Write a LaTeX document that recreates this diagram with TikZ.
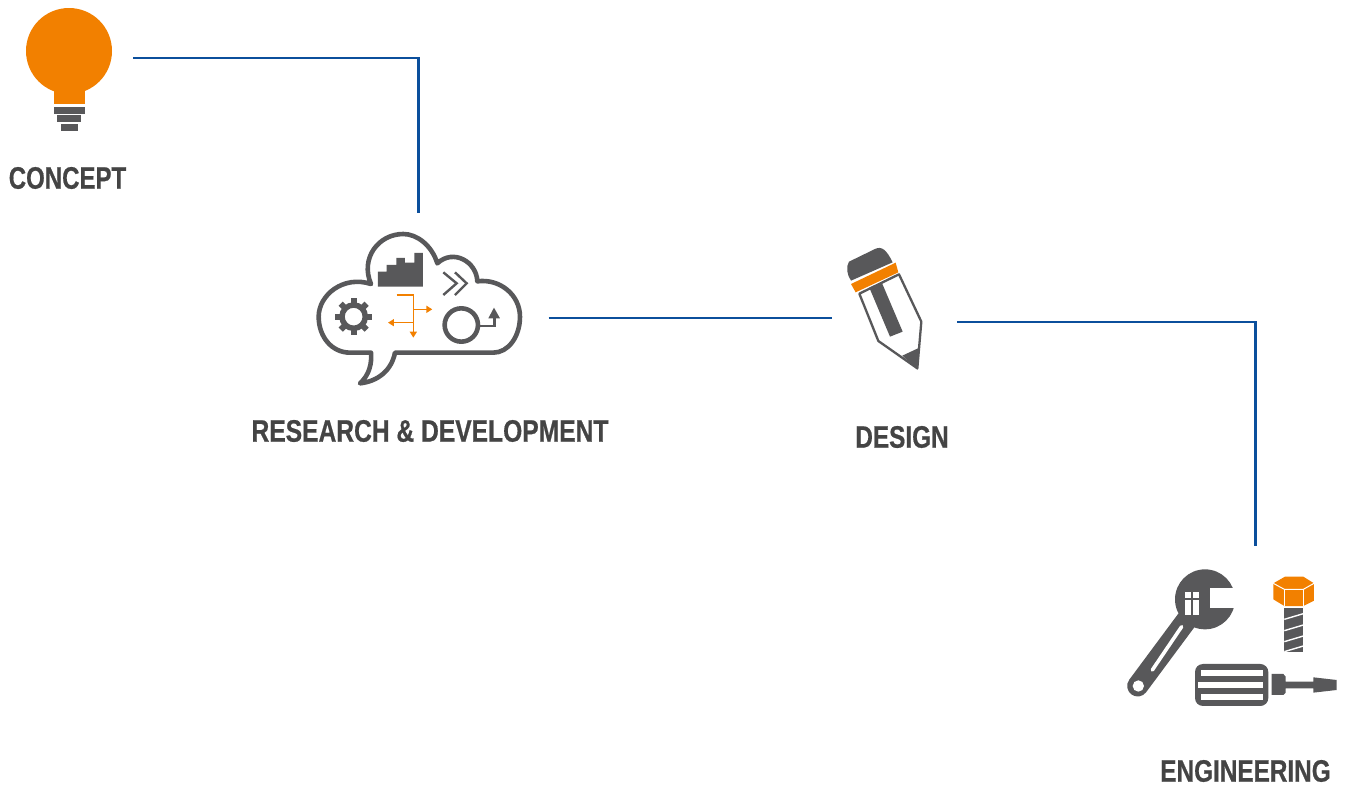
\documentclass[tikz,border=0pt]{standalone}
\usepackage{fontspec}
\usetikzlibrary{arrows.meta}
\newfontfamily\stepfont{Liberation Sans}[BoldFeatures={FakeBold=0.7}]
\definecolor{iconorange}{HTML}{F28000}
\definecolor{icongrey}{HTML}{58585A}
\definecolor{textgrey}{HTML}{444444}
\definecolor{linkblue}{HTML}{0B4F9C}
\tikzset{
    link/.style={draw=linkblue,line width=2.6pt},
    steptext/.style={font=\stepfont\bfseries\fontsize{31}{31}\selectfont,text=textgrey,inner sep=0pt,xscale=#1},
    iconbox/.style={rectangle,inner sep=0pt,minimum width=#1},
    outline/.style={draw=icongrey,line width=4.6pt,line join=round},
    thinarrow/.style={draw=iconorange,line width=1.6pt,-{Triangle[length=6pt,width=7pt]}}
}

\begin{document}
\begin{tikzpicture}[x=1pt,y=-1pt]
    \useasboundingbox (0,0) rectangle (1346,787);
    \fill[white] (0,0) rectangle (1346,787);
    % bulb
    \fill[iconorange] (69,51) circle (43);
    \fill[iconorange] (54,80) rectangle (85,104);
    \fill[icongrey] (54,107) rectangle (85,114);
    \fill[icongrey] (57,115) rectangle (81,122);
    \fill[icongrey] (61,124) rectangle (78,131);
    % cloud
    \begin{scope}[shift={(300,220)},scale=0.3333]
    \draw[outline] (213,398) .. controls (216,430) and (208,465) .. (180,490) .. controls (235,484) and (275,450) .. (285,398) -- (580,398) .. controls (625,398) and (660,350) .. (660,290) .. controls (660,225) and (600,175) .. (532,184) .. controls (530,125) and (460,85) .. (412,130) .. controls (395,75) and (350,42) .. (310,42) .. controls (235,42) and (180,115) .. (213,192) .. controls (130,165) and (56,225) .. (56,290) .. controls (56,350) and (95,398) .. (150,398) -- cycle;
    \fill[icongrey] (234,155) -- (260,155) -- (260,135) -- (289,135) -- (289,114) -- (315,114) -- (315,128) -- (343,128) -- (343,99) -- (369,99) -- (369,200) -- (234,200) -- cycle;
    \draw[icongrey,line width=2.4pt] (430,157) -- (470,190) -- (430,225);
    \draw[icongrey,line width=2.4pt] (465,157) -- (500,190) -- (465,225);
    \draw[icongrey,line width=5.5pt] (161,290) circle (35);
    \foreach \ang in {0,45,...,315}
        \fill[icongrey,rotate around={\ang:(161,290)}] (152,235) rectangle (170,256);
    \draw[thinarrow] (290,225) -- (340,225) -- (340,353);
    \draw[thinarrow] (340,268) -- (397,268);
    \draw[thinarrow] (340,308) -- (264,308);
    \draw[icongrey,line width=4.6pt] (484,315) circle (50);
    \draw[icongrey,line width=2.6pt] (540,318) -- (583,318) -- (583,292);
    \fill[icongrey] (582,263) -- (600,295) -- (565,295) -- cycle;
    \end{scope}
    % pencil
    \begin{scope}[shift={(825,235)},scale=0.3333]
    \fill[icongrey] (78,137) .. controls (66,120) and (62,95) .. (72,80) -- (150,42) .. controls (170,32) and (185,45) .. (203,82) -- cycle;
    \fill[iconorange] (78,147) -- (212,83) -- (220,112) -- (92,172) -- cycle;
    \draw[icongrey,line width=2.3pt,line join=round] (103,176) -- (160,318) -- (277,400) -- (289,260) -- (222,118) -- cycle;
    \fill[icongrey] (133,158) -- (170,142) -- (233,290) -- (195,305) -- cycle;
    \fill[icongrey] (232,362) -- (279,340) -- (278,404) -- cycle;
    \end{scope}
    % wrench, bolt, screwdriver
    \begin{scope}[shift={(1115,560)},scale=0.3333]
    \fill[icongrey] (270,118) circle (90);
    \fill[white] (285,85) rectangle (364,143);
    \draw[icongrey,line width=21pt,line cap=round] (215,180) -- (68,378);
    \fill[white] (70,378) circle (17);
    \draw[white,line width=3.6pt,line cap=round] (200,200) -- (112,330);
    \fill[white] (210,95) rectangle (228,115);
    \fill[white] (233,95) rectangle (252,115);
    \fill[white] (210,120) rectangle (228,165);
    \fill[white] (233,120) rectangle (252,165);
    \fill[iconorange] (475,70) -- (510,50) -- (565,50) -- (597,70) -- (597,122) -- (565,138) -- (508,138) -- (475,118) -- cycle;
    \draw[white,line width=1pt] (475,70) -- (508,88) -- (565,88) -- (597,70);
    \draw[white,line width=1pt] (508,88) -- (508,138);
    \draw[white,line width=1pt] (565,88) -- (565,138);
    \fill[icongrey] (508,145) rectangle (565,277);
    \foreach \yy in {178,212,245,275}
        \draw[white,line width=1.4pt] (508,\yy) -- (565,\yy-17);
    \fill[icongrey,rounded corners=8pt] (240,312) rectangle (460,438);
    \fill[white] (258,331) rectangle (443,347);
    \fill[white] (250,367) rectangle (443,383);
    \fill[white] (258,403) rectangle (443,419);
    \fill[icongrey] (470,342) -- (505,342) -- (512,350) -- (512,365) -- (595,365) -- (595,352) -- (665,360) -- (665,390) -- (595,398) -- (595,385) -- (512,385) -- (512,398) -- (505,405) -- (470,405) -- cycle;
    \end{scope}
    % anchors of the four steps
    \node[iconbox=108] (concept) at (79,58) {};
    \node[iconbox=260,minimum height=210] (research) at (418.5,318) {};
    \node[iconbox=125] (design) at (894.5,318) {};
    \node[iconbox=160,minimum height=188] (engineering) at (1255.5,640) {};
    % captions
    \node[steptext=0.775] (concepttext) at (67.5,178) {CONCEPT};
    \node[steptext=0.794] (researchtext) at (430,431) {RESEARCH \& DEVELOPMENT};
    \node[steptext=0.785] (designtext) at (902,437) {DESIGN};
    \node[steptext=0.785] (engineeringtext) at (1245.5,771) {ENGINEERING};
    % connectors
    \draw[link] (concept.east) -| (research.north);
    \draw[link] (research.east) -- (design.west);
    \draw[link] ([yshift=-4pt]design.east) -| (engineering.north);
\end{tikzpicture}
\end{document}
